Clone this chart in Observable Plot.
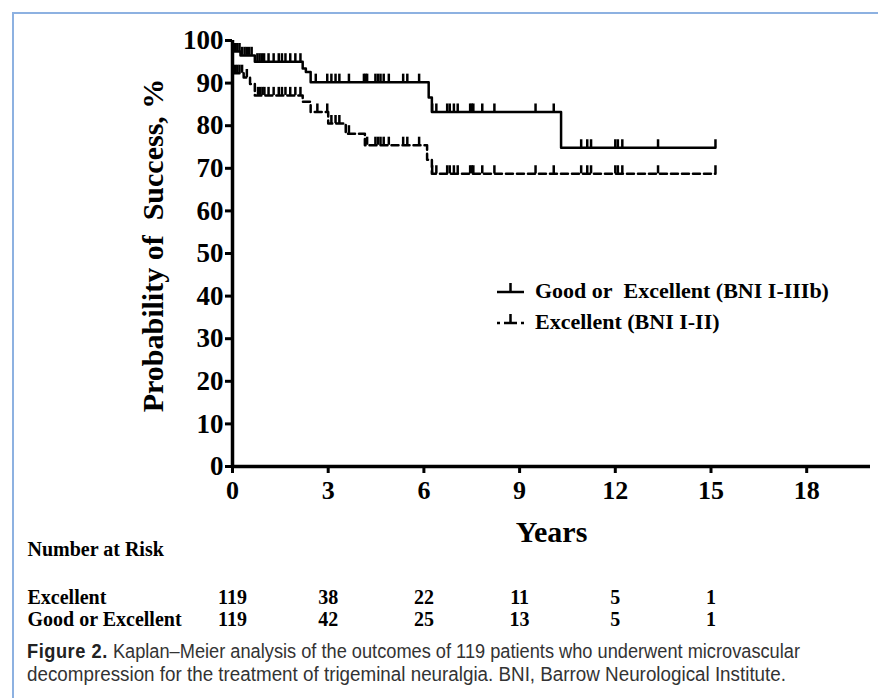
<!DOCTYPE html>
<html><head><meta charset="utf-8">
<script src="https://cdn.jsdelivr.net/npm/d3@7"></script>
<script src="https://cdn.jsdelivr.net/npm/@observablehq/plot@0.6"></script>
<style>
html,body{margin:0;padding:0;background:#fff}
body{width:878px;height:698px;overflow:hidden;position:relative}
#frame{position:absolute;left:12px;top:12px;width:880px;height:700px;border-top:2px solid #8db1e1;border-left:2px solid #8db1e1}
#chart{position:absolute;left:0;top:0}
.leg{position:absolute;left:497px;height:26px;display:flex;align-items:center;font:bold 22px "Liberation Serif","Times New Roman",serif;color:#000;white-space:pre}
.leg svg{margin-right:10px}
.capline{position:absolute;left:27px;display:inline-block;transform-origin:0 50%;font-size:20px;line-height:23px;color:#333;font-family:"Liberation Sans",Arial,sans-serif;white-space:nowrap}
.capline b{color:#222;letter-spacing:0.6px}
</style></head><body>
<div id="frame"></div>
<div id="chart"></div>
<div class="leg" style="top:278px"><svg width="28" height="26"><line x1="0" y1="14" x2="27" y2="14" stroke="#000" stroke-width="2.5"/><line x1="13.5" y1="5" x2="13.5" y2="14" stroke="#000" stroke-width="2.5"/></svg><span id="leg1"></span></div>
<div class="leg" style="top:309px"><svg width="28" height="26"><line x1="0" y1="14" x2="27" y2="14" stroke="#000" stroke-width="2.5" stroke-dasharray="3,4,13,4,3"/><line x1="13.5" y1="5" x2="13.5" y2="14" stroke="#000" stroke-width="2.5"/></svg><span id="leg2"></span></div>
<div class="capline" data-w="773" style="top:640px"><b>Figure 2.</b> Kaplan–Meier analysis of the outcomes of 119 patients who underwent microvascular</div>
<div class="capline" data-w="759" style="top:663px">decompression for the treatment of trigeminal neuralgia. BNI, Barrow Neurological Institute.</div>
<script>
// ---- data ----
const seriesNames = ["Good or\u00a0 Excellent (BNI I-IIIb)", "Excellent (BNI I-II)"];
// Good or Excellent (solid) step curve
const timesGE = [0, 0.25, 0.7, 2.2, 2.3, 2.45, 6.15, 6.25, 10.3, 15.14];
const survGE  = [97.4, 96.5, 95.0, 93.4, 92.6, 90.2, 86.6, 83.2, 74.8, 74.8];
// Excellent (dashed) step curve
const timesE = [0, 0.35, 0.55, 0.7, 2.2, 2.45, 3.0, 3.55, 4.15, 6.1, 6.25, 15.14];
const survE  = [92.3, 91.3, 89.8, 87.1, 85.6, 83.2, 80.5, 78.1, 75.4, 72.0, 68.7, 68.7];
// censored observations (years)
const censorGE = [0.08, 0.15, 0.22, 0.3, 0.38, 0.45, 0.52, 0.6,
  0.78, 0.85, 0.92, 0.99, 1.13, 1.29, 1.45, 1.55, 1.66, 1.81, 1.97, 2.13,
  2.61, 2.97, 3.1, 3.23, 3.35, 3.65, 4.12, 4.17, 4.22, 4.48, 4.56, 4.64, 4.74, 4.9, 5.35, 5.48, 5.85,
  6.26, 6.39, 6.73, 6.81, 6.94, 7.06, 7.45, 7.5, 7.55, 7.83, 8.21, 9.5, 10.07,
  10.93, 11.12, 11.24, 12.0, 12.08, 12.22, 13.34, 15.14];
const censorE = [0.08, 0.15, 0.22, 0.3, 0.45,
  0.8, 0.87, 0.94, 1.0, 1.13, 1.29, 1.45, 1.55, 1.66, 1.81, 1.97, 2.13,
  2.66, 2.97, 3.1, 3.23, 3.35, 3.65,
  4.22, 4.48, 4.56, 4.64, 4.74, 4.9, 5.35, 5.48, 5.85,
  6.26, 6.39, 6.73, 6.81, 6.94, 7.06, 7.45, 7.5, 7.55, 7.83, 8.21, 9.5, 10.07,
  10.93, 11.12, 11.24, 12.0, 12.08, 12.22, 13.34, 15.14];
const xTicks = [0, 3, 6, 9, 12, 15, 18];
const yTicks = [0, 10, 20, 30, 40, 50, 60, 70, 80, 90, 100];
const riskTimes = [0, 3, 6, 9, 12, 15];
const riskExcellent = [119, 38, 22, 11, 5, 1];
const riskGoodExcellent = [119, 42, 25, 13, 5, 1];
const riskRowLabels = ["Excellent", "Good or Excellent"];
const riskTitle = "Number at Risk";
const xLabel = "Years";
const yLabel = "Probability of\u00a0 Success, %";

// ---- build ----
function stepAt(times, surv, t) { let s = surv[0]; for (let i = 0; i < times.length; i++) if (times[i] <= t) s = surv[i]; return s; }
const curveGE = timesGE.map((t, i) => ({t, s: survGE[i]}));
const curveE = timesE.map((t, i) => ({t, s: survE[i]}));
const censGE = censorGE.map(t => ({t, s: stepAt(timesGE, survGE, t)}));
const censE = censorE.map(t => ({t, s: stepAt(timesE, survE, t)}));
const riskE = riskTimes.map((t, i) => ({t, n: riskExcellent[i]}));
const riskGE = riskTimes.map((t, i) => ({t, n: riskGoodExcellent[i]}));

document.getElementById("leg1").textContent = seriesNames[0];
document.getElementById("leg2").textContent = seriesNames[1];

const serif = '"Liberation Serif","Times New Roman",serif';
const chart = Plot.plot({
  width: 878, height: 635,
  marginLeft: 232, marginRight: 8, marginTop: 40, marginBottom: 169,
  style: {fontFamily: serif, fontWeight: "bold", color: "#000", background: "transparent", overflow: "visible"},
  x: {domain: [0, 20]},
  y: {domain: [0, 100]},
  marks: [
    Plot.axisY({ticks: yTicks, tickSize: 7, tickPadding: 2, fontSize: 27, strokeWidth: 3, label: null}),
    Plot.axisX({ticks: xTicks, tickSize: 7, tickPadding: 7, fontSize: 26, strokeWidth: 3, label: null}),
    Plot.ruleX([0], {strokeWidth: 3.5}),
    Plot.ruleY([0], {strokeWidth: 3.5}),
    Plot.line(curveGE, {x: "t", y: "s", curve: "step-after", strokeWidth: 2.5}),
    Plot.line(curveE, {x: "t", y: "s", curve: "step-after", strokeWidth: 2.5, strokeDasharray: "7,4"}),
    Plot.ruleX(censGE, {x: "t", y1: "s", y2: d => d.s + 1.9, strokeWidth: 2.5}),
    Plot.ruleX(censE, {x: "t", y1: "s", y2: d => d.s + 1.9, strokeWidth: 2.5}),
    Plot.text([yLabel], {frameAnchor: "left", textAnchor: "middle", rotate: -90, dx: -79, dy: -8, fontSize: 30}),
    Plot.text([xLabel], {frameAnchor: "bottom", dy: 75, fontSize: 30}),
    Plot.text([riskTitle], {frameAnchor: "bottom-left", textAnchor: "start", dx: -205, dy: 89, fontSize: 20}),
    Plot.text([riskRowLabels[0]], {frameAnchor: "bottom-left", textAnchor: "start", dx: -205, dy: 137, fontSize: 20}),
    Plot.text([riskRowLabels[1]], {frameAnchor: "bottom-left", textAnchor: "start", dx: -205, dy: 159, fontSize: 20}),
    Plot.text(riskE, {x: "t", text: "n", frameAnchor: "bottom", dy: 137, fontSize: 20}),
    Plot.text(riskGE, {x: "t", text: "n", frameAnchor: "bottom", dy: 159, fontSize: 20})
  ]
});
document.getElementById("chart").appendChild(chart);

document.querySelectorAll(".capline").forEach(el => {
  const w = el.getBoundingClientRect().width;
  el.style.transform = `scaleX(${(+el.dataset.w) / w})`;
});
</script>
</body></html>
